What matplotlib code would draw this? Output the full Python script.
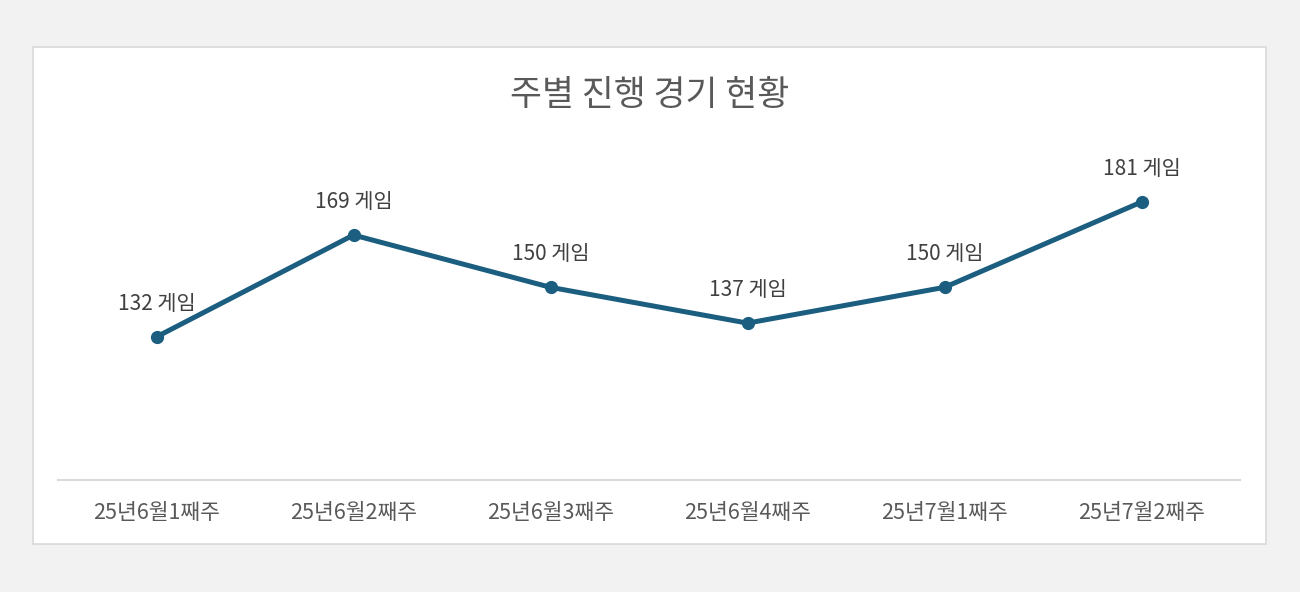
import matplotlib.pyplot as plt
from matplotlib.patches import Rectangle

plt.rcParams['font.family'] = ['Noto Sans CJK KR', 'DejaVu Sans']

weeks = ['25년6월1째주', '25년6월2째주', '25년6월3째주', '25년6월4째주', '25년7월1째주', '25년7월2째주']
games = [132, 169, 150, 137, 150, 181]

line_color = '#1b5e80'
text_color = '#595959'

fig = plt.figure(figsize=(13, 5.92), dpi=100)
fig.patch.set_facecolor('#f2f2f2')

# white chart panel, kept behind the axes
panel = Rectangle((33/1300, 48/592), (1266-33)/1300, (545-48)/592,
                  transform=fig.transFigure, facecolor='white',
                  edgecolor='#d9d9d9', linewidth=1.2, zorder=-10)
fig.patches.append(panel)

ax = fig.add_axes([58/1300, (592-480)/592, (1240-58)/1300, (480-149.7)/592])
ax.set_facecolor('none')

x = list(range(len(weeks)))
ax.plot(x, games, color=line_color, linewidth=3.6, marker='o', markersize=8.5,
        solid_capstyle='round', zorder=3)

for xi, v in zip(x, games):
    ax.annotate(f'{v} 게임', (xi, v), textcoords='offset points', xytext=(0, 24),
                ha='center', va='center', fontsize=15, color='#404040')

ax.set_xlim(-0.5, len(weeks) - 0.5)
ax.set_ylim(80, 200)
ax.set_xticks(x)
ax.set_xticklabels(weeks, fontsize=15.5, color=text_color)
ax.tick_params(axis='x', length=0, pad=16)
ax.set_yticks([])
for side in ['top', 'left', 'right']:
    ax.spines[side].set_visible(False)
ax.spines['bottom'].set_color('#d9d9d9')
ax.spines['bottom'].set_linewidth(1.5)

fig.text(0.5, (592-95)/592, '주별 진행 경기 현황', ha='center', va='center',
         fontsize=25, color=text_color)

fig.savefig('out.png', dpi=100, facecolor=fig.get_facecolor())
